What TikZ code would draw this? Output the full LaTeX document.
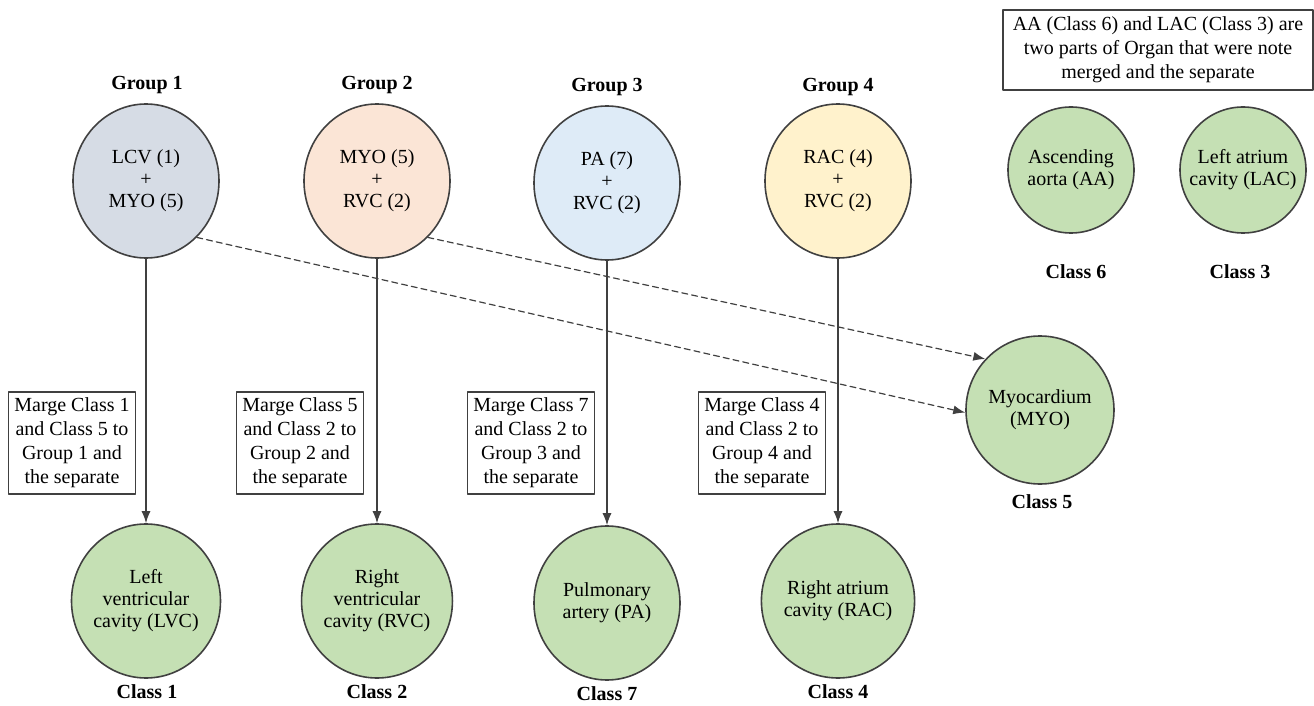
\documentclass[tikz,border=0pt]{standalone}
\usepackage{fontspec}
\setmainfont{Liberation Serif}
\usetikzlibrary{shapes.geometric,arrows.meta}
\definecolor{grpone}{HTML}{D6DCE5}
\definecolor{grptwo}{HTML}{FBE5D6}
\definecolor{grpthree}{HTML}{DEEBF7}
\definecolor{grpfour}{HTML}{FFF2CC}
\definecolor{organ}{HTML}{C5E0B4}
\definecolor{rim}{HTML}{404040}
\begin{document}
\begin{tikzpicture}[line cap=round,line join=round,>={Latex[length=6pt,width=4.5pt]},x=0.5pt,y=-0.5pt,
  font=\rmfamily\fontsize{10}{11}\selectfont,
  blob/.style={ellipse,draw=rim,thick,minimum width=73pt,minimum height=77pt,inner sep=0pt,align=center},
  small/.style={circle,draw=rim,thick,fill=organ,minimum size=63pt,inner sep=0pt,align=center},
  note/.style={draw=rim,thick,align=center,inner sep=3pt,font=\rmfamily\fontsize{10}{12}\selectfont},
  tag/.style={font=\rmfamily\fontsize{10}{12}\selectfont\bfseries},
  link/.style={->,rim,semithick}]
\useasboundingbox (0,0) rectangle (1314,706);
\node[tag] (t1) at (147,85) {Group 1};
\node[tag] (t2) at (377,85) {Group 2};
\node[tag] (t3) at (607,87) {Group 3};
\node[tag] (t4) at (838,87) {Group 4};
\node[blob,fill=grpone] (g1) at (146,181) {LCV (1)\\+\\MYO (5)};
\node[blob,fill=grptwo] (g2) at (377,181) {MYO (5)\\+\\RVC (2)};
\node[blob,fill=grpthree] (g3) at (607,183) {PA (7)\\+\\RVC (2)};
\node[blob,fill=grpfour] (g4) at (838,181) {RAC (4)\\+\\RVC (2)};
\node[blob,fill=organ] (c1) at (146,601) {Left\\ventricular\\cavity (LVC)};
\node[blob,fill=organ] (c2) at (377,601) {Right\\ventricular\\cavity (RVC)};
\node[blob,fill=organ] (c7) at (607,603) {Pulmonary\\artery (PA)};
\node[blob,fill=organ] (c4) at (838,601) {Right atrium\\cavity (RAC)};
\node[tag] (l1) at (147,692) {Class 1};
\node[tag] (l2) at (377,692) {Class 2};
\node[tag] (l7) at (607,694) {Class 7};
\node[tag] (l4) at (838,692) {Class 4};
\node[circle,draw=rim,thick,fill=organ,minimum size=74pt,inner sep=0pt,align=center] (myo) at (1040,410) {Myocardium\\(MYO)};
\node[tag] (l5) at (1042,502) {Class 5};
\node[small] (aa) at (1071,170) {Ascending\\aorta (AA)};
\node[small] (lac) at (1243,170) {Left atrium\\cavity (LAC)};
\node[tag] (l6) at (1076,272) {Class 6};
\node[tag] (l3) at (1240,272) {Class 3};
\node[note,minimum width=155pt,minimum height=40pt] (info) at (1158,50) {AA (Class 6) and LAC (Class 3) are\\two parts of Organ that were note\\merged and the separate};
\node[note,minimum width=63pt,minimum height=50pt] (m1) at (72,443) {Marge Class 1\\and Class 5 to\\Group 1 and\\the separate};
\node[note,minimum width=63pt,minimum height=50pt] (m2) at (300,443) {Marge Class 5\\and Class 2 to\\Group 2 and\\the separate};
\node[note,minimum width=63pt,minimum height=50pt] (m3) at (531,443) {Marge Class 7\\and Class 2 to\\Group 3 and\\the separate};
\node[note,minimum width=63pt,minimum height=50pt] (m4) at (762,443) {Marge Class 4\\and Class 2 to\\Group 4 and\\the separate};
\foreach \a/\b in {g1/c1,g2/c2,g3/c7,g4/c4}
{
\draw[link] (\a) -- (\b);
}
\draw[link,densely dashed] (g1.-48) -- (myo.182);
\draw[link,densely dashed] (g2.-48) -- (myo.137);
\end{tikzpicture}
\end{document}
